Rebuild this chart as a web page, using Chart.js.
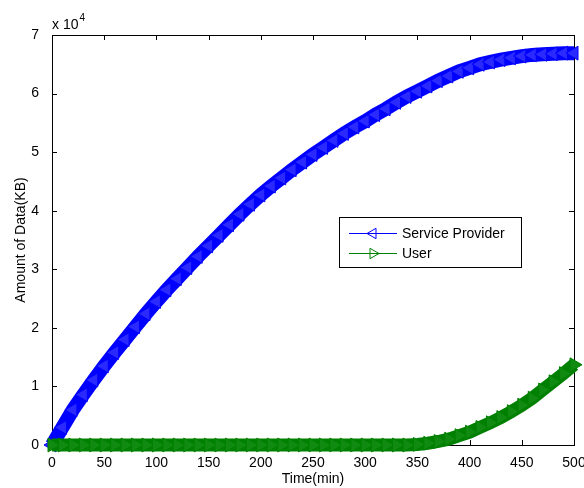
<!DOCTYPE html>
<html>
<head>
<meta charset="utf-8">
<script src="https://cdn.jsdelivr.net/npm/chart.js@4/dist/chart.umd.min.js"></script>
<style>
  html, body { margin: 0; padding: 0; background: #fff; }
  #wrap { width: 584px; height: 488px; }
</style>
</head>
<body>
<div id="wrap"><canvas id="dataChart" width="584" height="488"></canvas></div>
<script>
// Time axis (min), one reading every 10 min
const times = [0, 10, 20, 30, 40, 50, 60, 70, 80, 90, 100, 110, 120, 130, 140, 150, 160, 170, 180, 190, 200,
    210, 220, 230, 240, 250, 260, 270, 280, 290, 300, 310, 320, 330, 340, 350, 360, 370, 380, 390, 400,
    410, 420, 430, 440, 450, 460, 470, 480, 490, 500];

// Amount of data (KB)
const providerData = [0, 3000, 6000, 8600, 11100, 13500, 15800, 18000, 20200, 22400, 24500,
    26500, 28400, 30300, 32200, 34000, 35800, 37600, 39400, 41100, 42700,
    44200, 45600, 47000, 48300, 49600, 50800, 52000, 53200, 54300, 55300,
    56400, 57400, 58500, 59500, 60400, 61300, 62200, 63000, 63800, 64400,
    65000, 65400, 65800, 66100, 66400, 66600, 66700, 66800, 66900, 66900];
const userData = [0, 0, 0, 0, 0, 0, 0, 0, 0, 0, 0,
    0, 0, 0, 0, 0, 0, 0, 0, 0, 0,
    0, 0, 0, 0, 0, 0, 0, 0, 0, 0,
    0, 0, 0, 0, 100, 300, 600, 1000, 1600, 2200,
    3000, 3800, 4700, 5700, 6800, 8000, 9400, 10800, 12200, 13700];

const xTicks = [0, 50, 100, 150, 200, 250, 300, 350, 400, 450, 500];
const yTicks = [0, 10000, 20000, 30000, 40000, 50000, 60000, 70000];

const seriesNames = ['Service Provider', 'User'];
const seriesColors = ['#0000ff', '#008000'];

const FONT = '"Liberation Sans", Arial, sans-serif';

function toPoints(values) {
    return times.map((t, i) => ({ x: t, y: values[i] }));
}

function triangle(ctx, x, y, r, rot) {
    ctx.beginPath();
    for (let k = 0; k < 3; k++) {
        const a = rot + k * 2 * Math.PI / 3;
        const px = x + Math.sin(a) * r;
        const py = y - Math.cos(a) * r;
        if (k === 0) ctx.moveTo(px, py); else ctx.lineTo(px, py);
    }
    ctx.closePath();
    ctx.stroke();
}

// box + inward ticks, matlab style
const axesBox = {
    id: 'axesBox',
    beforeDatasetsDraw(chart) {
        const { ctx, chartArea: a, scales: { x, y } } = chart;
        ctx.save();
        ctx.strokeStyle = '#000';
        ctx.lineWidth = 1;
        ctx.strokeRect(Math.round(a.left) + 0.5, Math.round(a.top) + 0.5,
            Math.round(a.right - a.left), Math.round(a.bottom - a.top));
        ctx.beginPath();
        xTicks.forEach(v => {
            const px = Math.round(x.getPixelForValue(v)) + 0.5;
            ctx.moveTo(px, a.bottom); ctx.lineTo(px, a.bottom - 5);
            ctx.moveTo(px, a.top); ctx.lineTo(px, a.top + 5);
        });
        yTicks.forEach(v => {
            const py = Math.round(y.getPixelForValue(v)) + 0.5;
            ctx.moveTo(a.left, py); ctx.lineTo(a.left + 5, py);
            ctx.moveTo(a.right, py); ctx.lineTo(a.right - 5, py);
        });
        ctx.stroke();

        // exponent label
        ctx.fillStyle = '#000';
        ctx.textBaseline = 'alphabetic';
        ctx.font = '14px ' + FONT;
        ctx.fillText('x 10', a.left, 29);
        const w = ctx.measureText('x 10').width;
        ctx.font = '10px ' + FONT;
        ctx.fillText('4', a.left + w + 1, 21);
        ctx.restore();
    }
};

// legend with line + marker like the original
const boxLegend = {
    id: 'boxLegend',
    afterDraw(chart) {
        const ctx = chart.ctx;
        const lx = 339, ly = 217, lw = 182, lh = 50;
        ctx.save();
        ctx.fillStyle = '#fff';
        ctx.fillRect(lx, ly, lw, lh);
        ctx.strokeStyle = '#000';
        ctx.lineWidth = 1;
        ctx.strokeRect(lx + 0.5, ly + 0.5, lw, lh);
        const rows = [233, 253];
        const rots = [-Math.PI / 2, Math.PI / 2];
        seriesNames.forEach((name, i) => {
            ctx.strokeStyle = seriesColors[i];
            ctx.beginPath();
            ctx.moveTo(349, rows[i] + 0.5);
            ctx.lineTo(397, rows[i] + 0.5);
            ctx.stroke();
            triangle(ctx, 373, rows[i] + 0.5, 6, rots[i]);
            ctx.fillStyle = '#000';
            ctx.font = '14px ' + FONT;
            ctx.textBaseline = 'middle';
            ctx.fillText(name, 402, rows[i] + 1);
        });
        ctx.restore();
    }
};

new Chart(document.getElementById('dataChart'), {
    type: 'line',
    data: {
        datasets: [{
            label: seriesNames[0],
            data: toPoints(providerData),
            borderColor: seriesColors[0],
            borderWidth: 14,
            pointStyle: 'triangle',
            rotation: -90,
            pointRadius: 8,
            pointBorderWidth: 1,
            pointBackgroundColor: '#2a2aff',
            pointBorderColor: seriesColors[0],
            clip: false,
            order: 1
        }, {
            label: seriesNames[1],
            data: toPoints(userData),
            borderColor: seriesColors[1],
            borderWidth: 13,
            pointStyle: 'triangle',
            rotation: 90,
            pointRadius: 8,
            pointBorderWidth: 1,
            pointBackgroundColor: '#108a10',
            pointBorderColor: seriesColors[1],
            clip: false,
            order: 0
        }]
    },
    options: {
        responsive: false,
        animation: false,
        events: [],
        layout: { padding: { left: 0, right: 10, top: 35, bottom: 0 } },
        plugins: {
            legend: { display: false },
            tooltip: { enabled: false }
        },
        scales: {
            x: {
                type: 'linear',
                min: 0,
                max: 500,
                afterFit: s => { s.height = 43; s.paddingLeft = 0; s.paddingRight = 0; },
                afterBuildTicks: s => { s.ticks = xTicks.map(v => ({ value: v })); },
                grid: { display: false },
                border: { display: false },
                ticks: { color: '#000', font: { family: FONT, size: 14 }, padding: 2, maxRotation: 0 },
                title: { display: true, text: 'Time(min)', color: '#000', font: { family: FONT, size: 14 }, padding: { top: 0, bottom: 0 } }
            },
            y: {
                type: 'linear',
                min: 0,
                max: 70000,
                afterFit: s => { s.width = 52; s.paddingTop = 0; s.paddingBottom = 0; },
                afterBuildTicks: s => { s.ticks = yTicks.map(v => ({ value: v })); },
                grid: { display: false },
                border: { display: false },
                ticks: {
                    color: '#000',
                    font: { family: FONT, size: 14 },
                    padding: 5,
                    callback: v => String(v / 10000)
                },
                title: { display: true, text: 'Amount of Data(KB)', color: '#000', font: { family: FONT, size: 14 }, padding: { top: 13, bottom: 0 } }
            }
        }
    },
    plugins: [axesBox, boxLegend]
});
</script>
</body>
</html>
